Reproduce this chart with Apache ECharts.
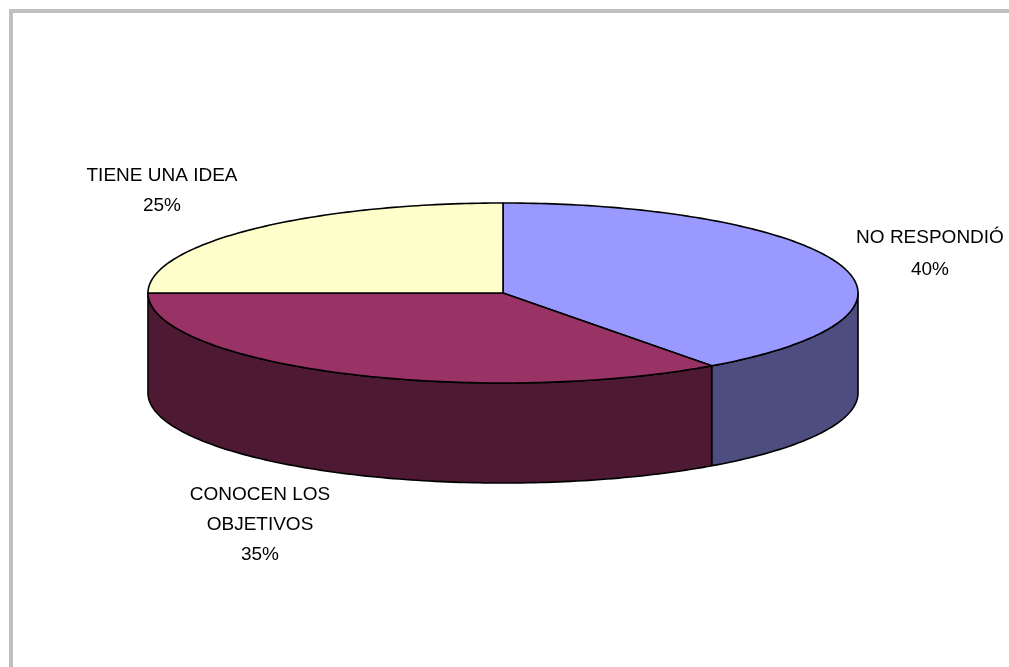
<!DOCTYPE html>
<html>
<head>
<meta charset="utf-8">
<script src="https://cdn.jsdelivr.net/npm/echarts@6/dist/echarts.min.js"></script>
<style>
  html, body { margin: 0; padding: 0; background: #ffffff; }
  #chart { width: 1009px; height: 667px; }
</style>
</head>
<body>
<div id="chart"></div>
<script>
// Slices, in clockwise order starting at 12 o'clock
const categories = ['NO RESPONDIÓ', 'CONOCEN LOS\nOBJETIVOS', 'TIENE UNA IDEA'];
const values = [40, 35, 25];
const topColors = ['#9999FF', '#993366', '#FFFFCC'];
const sideColors = ['#4D4D80', '#4D1933', '#80806A'];

// Label anchor (centre of the text block) for each slice
const labelAnchors = [[930, 254], [260, 525], [162, 191]];
const labelLineHeights = [32, 30, 30];

// Disc geometry in pixels
const disc = { cx: 503, cy: 293, rx: 355, ry: 90, depth: 100 };

const total = values.reduce((s, v) => s + v, 0);
const starts = [];
values.reduce((acc, v) => { starts.push(acc); return acc + v; }, 0);

function rimPoint(deg, drop) {
  const r = deg * Math.PI / 180;
  return [disc.cx + disc.rx * Math.sin(r), disc.cy - disc.ry * Math.cos(r) + (drop || 0)];
}

function arcPoints(a0, a1, drop) {
  const pts = [];
  const n = Math.max(2, Math.ceil((a1 - a0) / 1));
  for (let k = 0; k <= n; k++) pts.push(rimPoint(a0 + (a1 - a0) * k / n, drop));
  return pts;
}

function renderSlice(params, api) {
  const i = params.dataIndex;
  const v = api.value(0);
  const a0 = starts[i] / total * 360;
  const a1 = a0 + v / total * 360;
  const children = [];

  // outer wall: only the front half of the rim (90°..270°) is visible
  const s0 = Math.max(a0, 90), s1 = Math.min(a1, 270);
  if (s1 > s0) {
    const upper = arcPoints(s0, s1, 0);
    const lower = arcPoints(s0, s1, disc.depth).reverse();
    children.push({
      type: 'polygon',
      shape: { points: upper.concat(lower) },
      style: { fill: sideColors[i], stroke: '#000', lineWidth: 1.6, lineJoin: 'round' }
    });
  }

  // top face
  children.push({
    type: 'polygon',
    shape: { points: [[disc.cx, disc.cy]].concat(arcPoints(a0, a1, 0)) },
    style: { fill: topColors[i], stroke: '#000', lineWidth: 1.6, lineJoin: 'round' }
  });

  // category label with percentage
  const pct = Math.round(v / total * 100) + '%';
  children.push({
    type: 'text',
    x: labelAnchors[i][0],
    y: labelAnchors[i][1],
    style: {
      text: categories[i] + '\n' + pct,
      fill: '#000',
      font: '19px "Liberation Sans", Arial, sans-serif',
      lineHeight: labelLineHeights[i],
      align: 'center',
      verticalAlign: 'middle'
    }
  });

  return { type: 'group', children };
}

const chart = echarts.init(document.getElementById('chart'), null, { renderer: 'canvas' });
chart.setOption({
  backgroundColor: '#ffffff',
  animation: false,
  graphic: [{
    type: 'rect',
    shape: { x: 11, y: 11, width: 1200, height: 1200 },
    style: { fill: 'none', stroke: '#c0c0c0', lineWidth: 4 },
    silent: true
  }],
  series: [{
    type: 'custom',
    coordinateSystem: 'none',
    renderItem: renderSlice,
    data: values.map(v => [v])
  }]
});
</script>
</body>
</html>
